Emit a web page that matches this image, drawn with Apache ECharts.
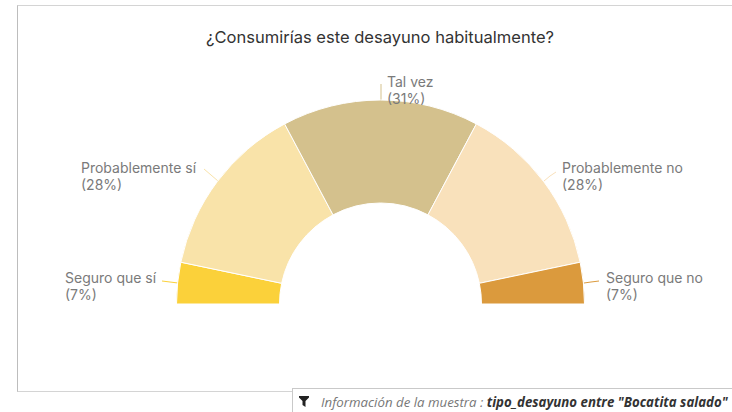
<!DOCTYPE html>
<html>
<head>
<meta charset="utf-8">
<style>
  html, body { margin: 0; padding: 0; width: 732px; height: 412px; overflow: hidden; background: #fff; }
  #card { position: absolute; left: 17px; top: 5px; width: 730px; height: 385px; border: 1px solid #d4d4d4; border-left-color: #bdbdbd; box-sizing: content-box; }
  #chart { position: absolute; left: 0; top: 0; width: 732px; height: 412px; }
  #filter { position: absolute; left: 292px; top: 388px; width: 460px; height: 40px; border: 1px solid #c9c9c9; background: #fff;
    font: italic 13.25px "Open Sans", sans-serif; color: #777; line-height: 26px; white-space: nowrap; }
  #filter svg { position: absolute; left: 6px; top: 7px; }
  #filter span { position: absolute; left: 28px; top: 0; }
  #filter b { color: #333; }
</style>
</head>
<body>
<div id="card"></div>
<div id="chart"></div>
<div id="filter">
  <svg width="10" height="11" viewBox="0 0 10 11"><path d="M0 0H10V1.5L6.5 5V11L3.5 9V5L0 1.5Z" fill="#222"/></svg>
  <span>Información de la muestra : <b>tipo_desayuno entre "Bocatita salado"</b></span>
</div>
<script src="https://cdn.jsdelivr.net/npm/echarts@6/dist/echarts.min.js"></script>
<script>
(function() {
  'use strict';

  var categories = ['Seguro que sí', 'Probablemente sí', 'Tal vez', 'Probablemente no', 'Seguro que no'];
  var values = [6.6, 28, 31.3, 28, 6.6];
  var colors = ['#fbd13a', '#f9e3a9', '#d4c18d', '#f9e1bb', '#db9a3d'];

  // label anchors and leader lines, in page pixels
  var labelPos = [[65, 287], [81, 177], [387, 91], [562, 177], [606, 287]];
  var linePts = [
    [[162, 281], [170, 282], [178, 283]],
    [[204, 169], [211, 175], [218, 181]],
    [[381, 84], [381, 92], [381, 100]],
    [[556, 172], [550, 176], [544, 181]],
    [[599, 281], [591, 282], [584, 283]]
  ];

  var chart = echarts.init(document.getElementById('chart'), null, { renderer: 'svg' });
  chart.setOption({
    animation: false,
    title: {
      text: '¿Consumirías este desayuno habitualmente?',
      left: 375,
      top: 23,
      textAlign: 'center',
      textStyle: { color: '#333', fontSize: 16.55, fontWeight: 400, fontFamily: 'Inter' }
    },
    series: [{
      type: 'pie',
      center: [380.5, 304],
      radius: [101, 204],
      startAngle: 180,
      endAngle: 0,
      clockwise: true,
      itemStyle: { borderColor: '#fff', borderWidth: 1 },
      label: {
        show: true,
        position: 'outside',
        color: '#7a7a7a',
        fontSize: 14,
        lineHeight: 17,
        fontFamily: 'Inter',
        formatter: function(p) { return p.name + '\n(' + Math.round(p.value) + '%)'; }
      },
      labelLine: { show: true, length: 8, length2: 8, smooth: false, lineStyle: { width: 1 } },
      labelLayout: function(p) {
        return {
          x: labelPos[p.dataIndex][0],
          y: labelPos[p.dataIndex][1] - 1,
          align: 'left',
          verticalAlign: 'middle',
          labelLinePoints: linePts[p.dataIndex]
        };
      },
      data: categories.map(function(name, i) {
        return { name: name, value: values[i], itemStyle: { color: colors[i] } };
      })
    }]
  });
})();
</script>
</body>
</html>
